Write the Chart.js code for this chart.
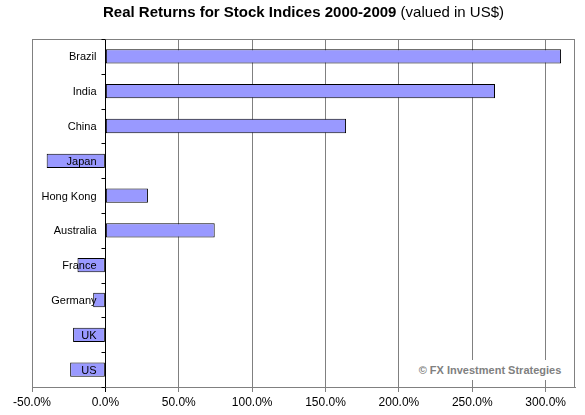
<!DOCTYPE html>
<html>
<head>
<meta charset="utf-8">
<script src="https://cdn.jsdelivr.net/npm/chart.js@4/dist/chart.umd.min.js"></script>
<style>
  html, body { margin: 0; padding: 0; background: #fff; }
  #wrap { position: relative; width: 585px; height: 415px; font-family: "Liberation Sans", Arial, sans-serif; }
  #chartTitle { position: absolute; left: 32px; top: 3px; width: 543px; text-align: center; font-size: 15px; line-height: 18px; color: #000; }
  #chartTitle b { font-weight: bold; }
  #credit { position: absolute; left: 408px; top: 360px; width: 164px; height: 20px; line-height: 20px; text-align: center;
            background: #fff; color: #808080; font-size: 11px; font-weight: bold; }
</style>
</head>
<body>
<div id="wrap">
  <canvas id="chartReturns" width="585" height="415"></canvas>
  <div id="chartTitle"><b>Real Returns for Stock Indices 2000-2009</b> (valued in US$)</div>
  <div id="credit">© FX Investment Strategies</div>
</div>
<script>
// ==================== DATA ====================
const countries = ["Brazil", "India", "China", "Japan", "Hong Kong", "Australia", "France", "Germany", "UK", "US"];
const realReturns = [310.5, 265.5, 164, -40, 29, 74.5, -19, -8.3, -22, -24];
const axisTicks = [-50, 0, 50, 100, 150, 200, 250, 300];

const GRID = "#808080";
const FONT = "'Liberation Sans', Arial, sans-serif";

// gray frame around the plot area
const plotFrame = {
  id: "plotFrame",
  beforeDatasetsDraw(chart) {
    const { ctx, chartArea: a } = chart;
    ctx.save();
    ctx.strokeStyle = GRID;
    ctx.lineWidth = 1;
    ctx.strokeRect(Math.round(a.left) + 0.5, Math.round(a.top) + 0.5,
      Math.round(a.right - a.left) - 1, Math.round(a.bottom - a.top));
    ctx.restore();
  }
};

// category ticks + labels sitting left of the zero line, over the bars
const zeroAxisLabels = {
  id: "zeroAxisLabels",
  afterDatasetsDraw(chart) {
    const { ctx } = chart;
    const xs = chart.scales.x, ys = chart.scales.y;
    const x0 = Math.round(xs.getPixelForValue(0)) + 0.5;
    const half = (ys.getPixelForValue(1) - ys.getPixelForValue(0)) / 2;
    ctx.save();
    ctx.strokeStyle = "#000";
    ctx.lineWidth = 1;
    ctx.beginPath();
    for (let i = 0; i <= countries.length; i++) {
      const y = Math.round(ys.getPixelForValue(i) - half) + 0.5;
      ctx.moveTo(x0 - 4, y);
      ctx.lineTo(x0, y);
    }
    ctx.stroke();
    ctx.fillStyle = "#000";
    ctx.font = "11px " + FONT;
    ctx.textAlign = "right";
    ctx.textBaseline = "middle";
    countries.forEach((c, i) => ctx.fillText(c, x0 - 9, ys.getPixelForValue(i) + 1));
    ctx.restore();
  }
};

const ctx = document.getElementById("chartReturns").getContext("2d");
new Chart(ctx, {
  type: "bar",
  data: {
    labels: countries,
    datasets: [{
      data: realReturns,
      backgroundColor: "#9999FF",
      borderColor: "#000",
      borderWidth: 1,
      borderSkipped: false,
      barPercentage: 0.41,
      categoryPercentage: 1
    }]
  },
  options: {
    indexAxis: "y",
    responsive: false,
    animation: false,
    layout: { padding: { top: 39, left: 32, right: 10, bottom: 1 } },
    plugins: { legend: { display: false }, tooltip: { enabled: false }, title: { display: false } },
    scales: {
      x: {
        type: "linear",
        position: "bottom",
        min: -50,
        max: 320,
        afterBuildTicks: scale => { scale.ticks = axisTicks.map(v => ({ value: v })); },
        grid: {
          color: c => (c.tick && c.tick.value === 0 ? "#000" : GRID),
          lineWidth: 1,
          tickLength: 5
        },
        border: { color: GRID },
        ticks: {
          color: "#000",
          padding: 5,
          maxRotation: 0,
          font: { family: FONT, size: 12, lineHeight: 1 },
          callback: v => v.toFixed(1) + "%"
        }
      },
      y: {
        type: "category",
        position: { x: 0 },
        offset: true,
        grid: { display: false },
        border: { display: true, color: "#000" },
        ticks: { display: false }
      }
    }
  },
  plugins: [plotFrame, zeroAxisLabels]
});
</script>
</body>
</html>
